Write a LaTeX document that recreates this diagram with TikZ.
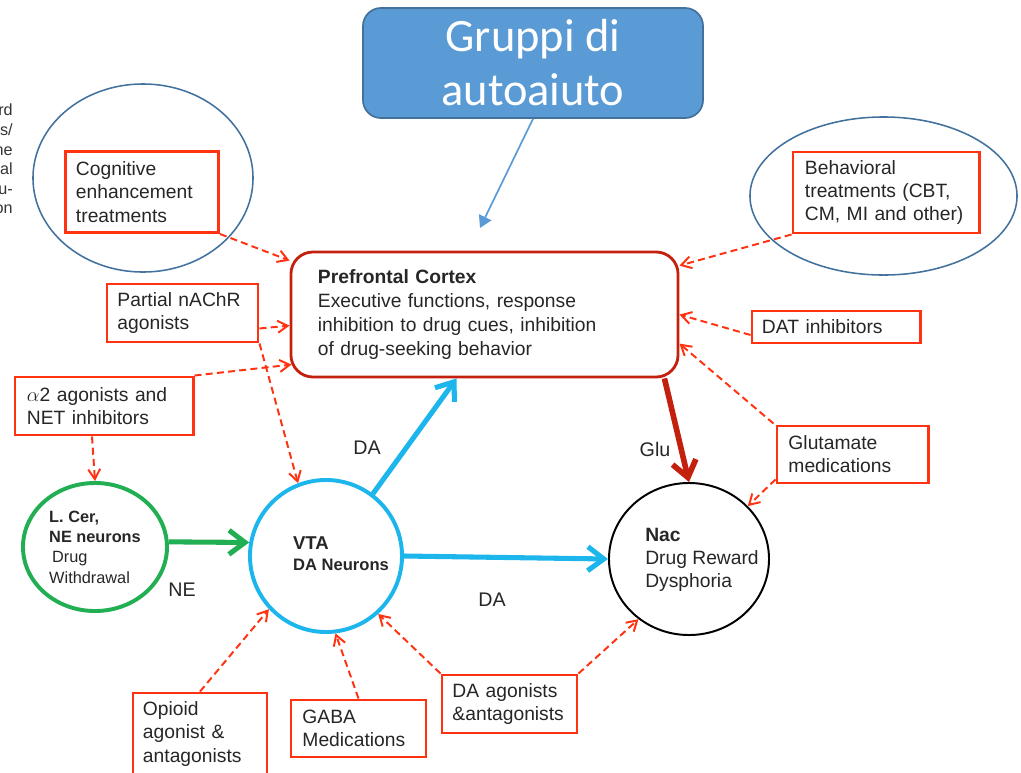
\documentclass[tikz,border=0pt]{standalone}
\usepackage{fontspec}
\setmainfont{Liberation Sans}
\newfontfamily\helpfont{Carlito}
\usetikzlibrary{arrows.meta,shapes.geometric,positioning,calc}
\definecolor{medred}{HTML}{FF3311}
\definecolor{pfcred}{HTML}{C4200E}
\definecolor{vtacyan}{HTML}{1CB5EC}
\definecolor{cergreen}{HTML}{22AE52}
\definecolor{ringblue}{HTML}{41719C}
\definecolor{helpblue}{HTML}{5B9BD5}
\definecolor{ink}{HTML}{262626}

\begin{document}
\begin{tikzpicture}[x=0.025cm,y=-0.025cm,text=ink,
  font=\fontsize{13.7}{16.5}\selectfont,
  med/.style={draw=medred,line width=2.1pt,inner sep=0pt,align=left},
  ring/.style={ellipse,draw=ringblue,line width=1.1pt,inner sep=0pt},
  inhib/.style={medred,line width=1.4pt,dash pattern=on 5pt off 3pt,
    -{Straight Barb[length=2.5mm,width=3mm]}},
  flow/.style={line width=3.6pt,-{Straight Barb[length=4mm,width=6mm]}},
  tag/.style={font=\fontsize{14}{17}\selectfont,text=black!85}]
  \useasboundingbox (0,0) rectangle (1021,772);
  \clip (0,0) rectangle (1021,772);
  % text cut off at the left margin
  \node[anchor=east,align=right,inner sep=0pt,font=\fontsize{11.5}{13.9}\selectfont,text=black!80] (cut) at (13,159) {rd\\s/\\ne\\al\\u-\\on};

  % rings round two treatments
  \node[ring,minimum width=5.5cm,minimum height=4.7cm] (cogring) at (143,178) {};
  \node[ring,minimum width=6.675cm,minimum height=3.95cm] (behring) at (883.5,196) {};

  \node[draw=ringblue,fill=helpblue,line width=1.2pt,rounded corners=0.45cm,
    minimum width=8.5cm,minimum height=2.75cm,align=center,text=white,
    font=\helpfont\fontsize{33}{38.4}\selectfont] (help) at (533,63) {Gruppi di\\autoaiuto};

  \node[draw=pfcred,line width=2pt,rounded corners=0.55cm,minimum width=9.675cm,
    minimum height=3.125cm,text width=8.325cm,align=left,inner sep=0pt,
    font=\fontsize{13.7}{17}\selectfont] (pfc) at (484.5,314.5)
    {\textbf{Prefrontal Cortex}\\Executive functions, response\\inhibition to drug cues, inhibition\\of drug-seeking behavior};

  % brain regions
  \node[circle,draw=vtacyan,line width=2.8pt,minimum size=3.8cm] (vta) at (326,556) {};
  \node[align=left,font=\bfseries\fontsize{11.8}{15}\selectfont] (vtatxt) at (341,554)
    {{\fontsize{13.2}{15}\selectfont VTA}\\DA Neurons};
  \node[ellipse,draw=cergreen,line width=2.8pt,minimum width=3.6cm,minimum height=3.2cm,
    align=left,inner sep=0pt,font=\fontsize{11.6}{14.5}\selectfont] (lcer) at (95,547)
    {\textbf{L. Cer,}\\\textbf{NE neurons}\\\hspace{2pt}Drug\\Withdrawal};
  \node[ellipse,draw=black,line width=1.4pt,minimum width=4cm,minimum height=3.8cm] (nac) at (689,559) {};
  \node[align=left] (nactxt) at (702,560) {\textbf{Nac}\\Drug Reward\\Dysphoria};

  % treatments
  \node[med,minimum width=3.825cm,minimum height=2.025cm,text width=3.3cm] (cog) at (142,192)
    {Cognitive\\enhancement\\treatments};
  \node[med,minimum width=4.65cm,minimum height=2.025cm,text width=4.05cm] (beh) at (886,192.5)
    {Behavioral\\treatments (CBT,\\CM, MI and other)};
  \node[med,minimum width=3.775cm,minimum height=1.45cm,text width=3.25cm] (nachr) at (182.5,313)
    {Partial nAChR\\agonists};
  \node[med,minimum width=4.2cm,minimum height=0.8cm,text width=3.7cm] (dat) at (836,327)
    {DAT inhibitors};
  \node[med,minimum width=4.45cm,minimum height=1.45cm,text width=3.85cm] (alpha) at (104,406)
    {$\alpha$2 agonists and\\NET inhibitors};
  \node[med,minimum width=3.775cm,minimum height=1.425cm,text width=3.2cm] (glut) at (852.5,454.5)
    {Glutamate\\medications};
  \node[med,minimum width=3.35cm,minimum height=2.05cm,text width=2.85cm] (opi) at (200,734)
    {Opioid\\agonist \&\\antagonists};
  \node[med,minimum width=3.375cm,minimum height=1.425cm,text width=2.8cm] (gaba) at (358.5,728.5)
    {GABA\\Medications};
  \node[med,minimum width=3.375cm,minimum height=1.45cm,text width=2.85cm] (daag) at (509.5,704)
    {DA agonists\\\&antagonists};

  % transmitter labels
  \node[tag] (da1) at (367,448) {DA};
  \node[tag] (glu) at (655,449) {Glu};
  \node[tag] (ne) at (182,590) {NE};
  \node[tag] (da2) at (492,600) {DA};

  \coordinate (helptip) at (480,228);
  \draw[helpblue,line width=1.2pt,-{Triangle[length=3mm,width=3.4mm]}] (help.south) -- (helptip);

  \path[inhib]
    (cog.south east) edge ($(pfc.north west)+(0,10)$)
    ($(nachr.south east)+(0,-15)$) edge ($(pfc.north west)+(0,75)$)
    (nachr.south east) edge (vta.111)
    (alpha.north east) edge ($(pfc.north west)+(2,114)$)
    ($(alpha.south)+(-12,0)$) edge (lcer.north)
    (beh.south west) edge ($(pfc.north east)+(0,15)$)
    ($(dat.west)+(0,8)$) edge ($(pfc.north east)+(0,64)$)
    ($(glut.north west)+(-2,-1)$) edge ($(pfc.north east)+(0,93)$)
    ($(glut.south west)+(0,-5)$) edge (nac.42)
    (opi.north) edge (vta.223)
    (gaba.north) edge (vta.277)
    (daag.north west) edge (vta.312)
    (daag.north east) edge (nac.230);

  \path[flow,vtacyan]
    (vta.53) edge ($(pfc.south west)+(167,0)$)
    (vta.east) edge (nac.west);
  \draw[flow,cergreen] (lcer.4) -- (vta.170);
  \draw[flow,pfcred,line width=4pt] ($(pfc.south east)+(-15,0)$) -- (nac.north);
\end{tikzpicture}
\end{document}
